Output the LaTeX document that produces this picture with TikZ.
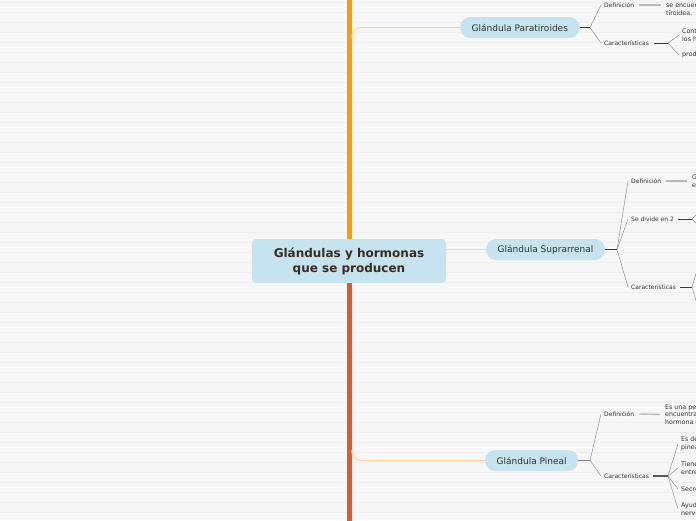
\documentclass[tikz,border=0pt]{standalone}
\usepackage{fontspec}
\setmainfont{DejaVu Sans}
\usetikzlibrary{positioning,calc}
\usepackage{xcolor}
\definecolor{mmbg}{HTML}{F7F7F7}
\definecolor{mmstripe}{HTML}{EFEFEF}
\definecolor{mmblue}{HTML}{C5E4EF}
\definecolor{mmorange}{HTML}{FF9A00}
\definecolor{mmred}{HTML}{E8572A}
\definecolor{mmpeach}{HTML}{FCD39B}
\definecolor{mmtext}{HTML}{333333}
\definecolor{mmbrown}{HTML}{3B2A1E}
\definecolor{mmdark}{HTML}{3A3A3A}
\tikzset{
    root/.style={
        fill=mmblue,rounded corners=4pt,minimum width=194pt,minimum height=44pt,
        align=center,font=\fontsize{12}{15}\selectfont\bfseries,text=mmbrown
    },
    topic/.style={
        fill=mmblue,rounded corners=10pt,minimum height=21pt,inner xsep=11.5pt,
        inner ysep=0pt,anchor=west,font=\fontsize{9}{11}\selectfont,text=mmtext
    },
    sub/.style={
        inner sep=0pt,anchor=west,font=\fontsize{6}{8}\selectfont,text=mmtext
    },
    leaf/.style={
        inner sep=0pt,anchor=west,align=left,font=\fontsize{6.3}{7.8}\selectfont,text=mmtext
    },
    trunk/.style={draw=#1,line width=5pt},
    branch/.style={draw=mmpeach,line width=1pt},
    stem/.style={draw=mmdark,line width=.9pt},
    twig/.style={draw=gray!85,line width=.5pt},
    defline/.style={draw=gray!55,line width=1.4pt}
}
\begin{document}
\begin{tikzpicture}[x=1pt,y=-1pt]
\useasboundingbox (0,0) rectangle (696,520);
\fill[mmbg] (0,0) rectangle (696,520);
\foreach \y in {2,12,...,512}
    \draw[mmstripe,line width=1pt] (0,\y) -- (696,\y);

% central topic and trunk
\node[root] (root) at (349,261) {Glándulas y hormonas\\que se producen};
\coordinate (top) at (349,-2);
\coordinate (bottom) at (349,522);
\draw[trunk=mmorange] (top) -- (root.north);
\draw[trunk=mmred] (root.south) -- (bottom);

% main topics
\node[topic] (para) at (460,27.5) {Glándula Paratiroides};
\node[topic] (supra) at (486,249.5) {Glándula Suprarrenal};
\node[topic] (pineal) at (485,460.5) {Glándula Pineal};

\coordinate (paraRoot) at (351.5,38);
\coordinate (pinRoot) at (351.5,450);
\draw[branch,rounded corners=10pt] (paraRoot) |- (para.west);
\draw[branch] (root.east |- supra.west) -- (supra.west);
\draw[branch,rounded corners=10pt] (pinRoot) |- (pineal.west);

% Paratiroides
\coordinate (paraFork) at (590,27.5);
\draw[stem] (para.east) -- (paraFork);
\node[sub] (paraDef) at (604,5) {Definición};
\node[sub] (paraCar) at (604,43) {Características};
\foreach \n in {paraDef,paraCar}
    \draw[twig] (paraFork) -- ([xshift=-3pt]\n.west);
\node[leaf] (paraDefTxt) at (666,5) {Son cuatro glándulas pequeñas que\\se encuentran detrás de la glándula\\tiroidea.};
\draw[defline] ([xshift=5pt]paraDef.east) -- ([xshift=-5pt]paraDefTxt.west);
\coordinate (paraCarFork) at (668,43);
\draw[stem] ([xshift=5pt]paraCar.east) -- (paraCarFork);
\node[leaf] (paraC1) at (682,35) {Controlan el calcio en la sangre y\\los huesos.};
\node[leaf] (paraC2) at (682,55) {producen la hormona paratiroidea.};
\foreach \n in {paraC1,paraC2}
    \draw[twig] (paraCarFork) -- ([xshift=-3pt]\n.west);

% Suprarrenal
\coordinate (supraFork) at (617,249.5);
\draw[stem] (supra.east) -- (supraFork);
\node[sub] (supraDef) at (631,181) {Definición};
\node[sub] (supraDiv) at (631,219) {Se divide en 2};
\node[sub] (supraCar) at (631,287) {Características};
\foreach \n in {supraDef,supraDiv,supraCar}
    \draw[twig] (supraFork) -- ([xshift=-3pt]\n.west);
\node[leaf] (supraDefTxt) at (692,181) {Glándulas que se ubican\\encima de cada riñón.};
\draw[defline] ([xshift=5pt]supraDef.east) -- ([xshift=-5pt]supraDefTxt.west);
\coordinate (supraDivFork) at (692,219);
\draw[stem] ([xshift=4pt]supraDiv.east) -- (supraDivFork);
\coordinate (supraDivA) at (702,209);
\coordinate (supraDivB) at (702,229);
\foreach \n in {supraDivA,supraDivB}
    \draw[twig] (supraDivFork) -- (\n);
\coordinate (supraCarFork) at (692,287);
\draw[stem] ([xshift=4pt]supraCar.east) -- (supraCarFork);
\coordinate (supraCarA) at (700,260);
\coordinate (supraCarB) at (700,314);
\foreach \n in {supraCarA,supraCarB}
    \draw[twig] (supraCarFork) -- (\n);

% Pineal
\coordinate (pinFork) at (590,460.5);
\draw[stem,draw=gray] (pineal.east) -- (pinFork);
\node[sub] (pinDef) at (604,414) {Definición};
\node[sub] (pinCar) at (604,476) {Características};
\foreach \n in {pinDef,pinCar}
    \draw[twig] (pinFork) -- ([xshift=-3pt]\n.west);
\node[leaf] (pinDefTxt) at (665,414.5) {Es una pequeña glándula que se\\encuentra en el cerebro y produce la\\hormona melatonina.};
\draw[defline] ([xshift=5pt]pinDef.east) -- ([xshift=-5pt]pinDefTxt.west);
\coordinate (pinCarFork) at (668,476);
\draw[stem,line width=2pt,draw=mmdark!85] ([xshift=4pt]pinCar.east) -- (pinCarFork);
\node[leaf] (pinC1) at (681,444) {Es de forma de piña, por eso se llama\\pineal.};
\node[leaf] (pinC2) at (681,468) {Tiene el tamaño de un grano de arroz y está\\entre los dos hemisferios.};
\node[leaf] (pinC3) at (681,489) {Secreta melatonina.};
\node[leaf] (pinC4) at (681,509) {Ayuda a regular el sistema\\nervioso.};
\foreach \n in {pinC1,pinC2,pinC3,pinC4}
    \draw[twig] (pinCarFork) -- ([xshift=-3pt]\n.west);

\end{tikzpicture}
\end{document}
